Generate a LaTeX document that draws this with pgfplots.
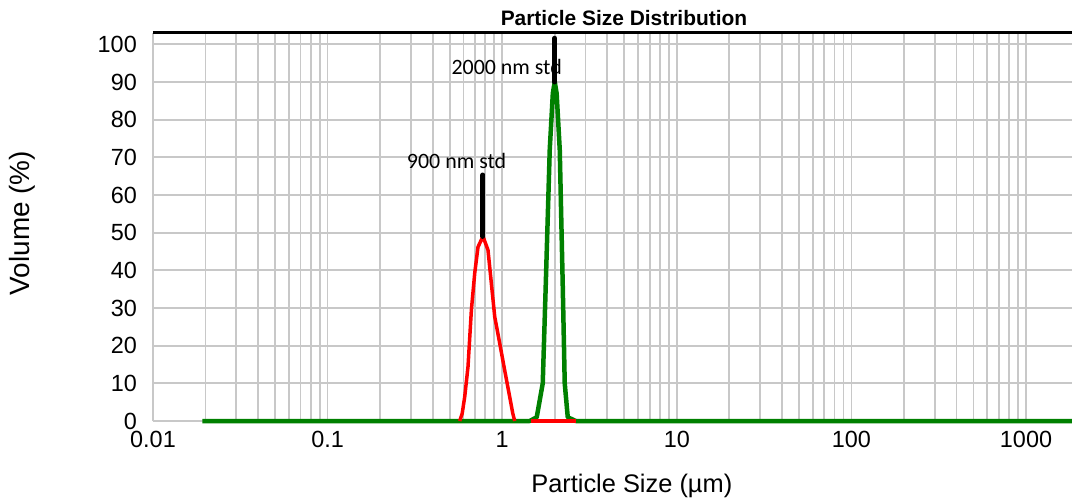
\documentclass[border=0pt]{standalone}
\usepackage{pgfplots}
\pgfplotsset{compat=1.18}
\usepackage{fontspec}
\setmainfont{Liberation Sans}
\newfontfamily\calibri{Carlito}
\definecolor{gridgray}{RGB}{200,200,200}
\definecolor{pgreen}{RGB}{0,128,0}
\definecolor{pred}{RGB}{255,0,0}
\begin{document}
\begin{tikzpicture}
\useasboundingbox (-153bp,-78bp) rectangle (919bp,421bp);
\begin{axis}[
  at={(0,0)}, anchor=south west,
  scale only axis, width=919bp, height=388bp,
  xmode=log, xmin=0.01, xmax=1834, ymin=0, ymax=103,
  clip=false,
  axis lines=left,
  axis line style={gridgray, line width=1.8bp, -},
  major tick length=0pt, minor tick length=0pt,
  xtick={0.01,0.1,1,10,100,1000},
  xticklabels={0.01,0.1,1,10,100,1000},
  minor xtick={0.02,0.03,0.04,0.05,0.06,0.07,0.08,0.09,
               0.2,0.3,0.4,0.5,0.6,0.7,0.8,0.9,
               2,3,4,5,6,7,8,9,
               20,30,40,50,60,70,80,90,
               200,300,400,500,600,700,800,900},
  ytick={0,10,...,100},
  grid=both,
  major grid style={gridgray, line width=1.8bp},
  minor grid style={gridgray, line width=1.8bp},
  extra y ticks={103},
  extra y tick labels={},
  extra y tick style={grid=major, major grid style={black, line width=3bp}},
  /pgf/number format/assume math mode=true,
  ticklabel style={font=\fontsize{23.5}{23.5}\selectfont},
  yticklabel style={inner sep=0pt, anchor=east, xshift=-16bp},
  xticklabel style={inner sep=0pt, anchor=north, yshift=-10bp},
  xlabel={Particle Size (µm)},
  ylabel={Volume (\%)},
  xlabel style={font=\fontsize{25.5}{25.5}\selectfont, at={(axis description cs:0.521,-0.168)}, anchor=center},
  ylabel style={font=\fontsize{28}{28}\selectfont, at={(axis description cs:-0.1425,0.51)}, anchor=center},
  title={\textbf{Particle Size Distribution}},
  title style={font=\fontsize{21}{21}\selectfont, at={(axis description cs:0.5125,1.003)}, anchor=base, inner sep=0pt},
]
% 2000 nm std (green)
\addplot[pgreen, line width=4.5bp, line join=round] coordinates {
  (0.0192,0) (1.438,0) (1.577,1) (1.707,10) (1.776,36) (1.872,72)
  (1.95,87) (2.0,90) (2.05,87) (2.136,72) (2.222,36) (2.281,10)
  (2.374,1) (2.638,0) (1834,0)
};
% 900 nm std (red)
\addplot[pred, line width=3.5bp, line join=round] coordinates {
  (0.571,0) (0.590,2) (0.610,6.4) (0.637,14.4) (0.666,29.4) (0.696,39.2)
  (0.727,46.2) (0.776,49) (0.829,45.4) (0.867,36.5) (0.906,27.7)
  (0.968,20.6) (1.033,13.5) (1.104,6.4) (1.15,2) (1.179,0)
};
\addplot[pred, line width=4.5bp] coordinates {(1.47,0) (2.66,0)};
\node[font=\calibri\fontsize{22}{22}\selectfont, anchor=base, inner sep=0pt] at (axis cs:0.548,67.1) {900 nm std};
\node[font=\calibri\fontsize{22}{22}\selectfont, anchor=base, inner sep=0pt] at (axis cs:1.061,92.0) {2000 nm std};
% std markers
\addplot[black, line width=5bp, line cap=round] coordinates {(0.776,49) (0.776,65.3)};
\addplot[black, line width=5bp, line cap=round] coordinates {(2.0,90) (2.0,101.6)};
\end{axis}
\end{tikzpicture}
\end{document}
